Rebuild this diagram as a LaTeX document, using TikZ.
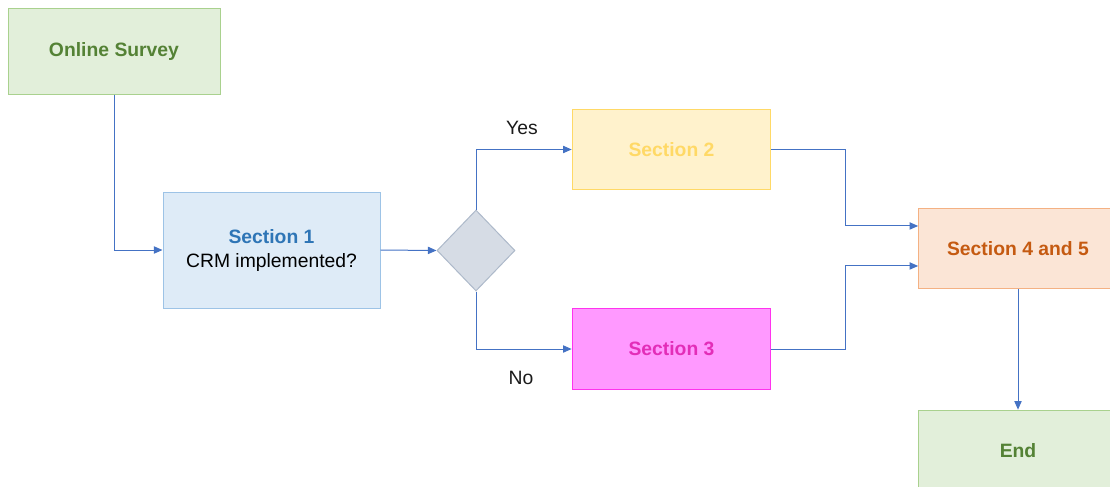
\documentclass[tikz,border=0pt]{standalone}
\usepackage{fontspec}
\setmainfont{Liberation Sans}
\usepackage{tikz}
\usepackage{xcolor}
\usetikzlibrary{shapes.geometric,arrows.meta}

\definecolor{surveyFill}{HTML}{E2EFDA}
\definecolor{surveyLine}{HTML}{A9D18E}
\definecolor{surveyText}{HTML}{548235}
\definecolor{blueFill}{HTML}{DEEBF7}
\definecolor{blueLine}{HTML}{9DC3E6}
\definecolor{blueText}{HTML}{2E75B6}
\definecolor{yellowFill}{HTML}{FFF2CC}
\definecolor{yellowLine}{HTML}{FFD966}
\definecolor{pinkFill}{HTML}{FF99FF}
\definecolor{pinkLine}{HTML}{FF33EE}
\definecolor{pinkText}{HTML}{E32DB8}
\definecolor{orangeFill}{HTML}{FBE5D6}
\definecolor{orangeLine}{HTML}{F4B183}
\definecolor{orangeText}{HTML}{C55A11}
\definecolor{grayFill}{HTML}{D6DCE5}
\definecolor{grayLine}{HTML}{ADB9CA}
\definecolor{linkBlue}{HTML}{4472C4}

\begin{document}
\begin{tikzpicture}[x=0.75pt,y=0.75pt,yscale=-1,xscale=1,
  box/.style={rectangle, line width=0.75pt, inner sep=0pt, align=center,
    minimum width=149pt, minimum height=60.5pt,
    font=\fontsize{14.5}{18}\selectfont\bfseries},
  label/.style={inner sep=0.75pt, font=\fontsize{14.5}{18}\selectfont, text={rgb,255:red,26;green,26;blue,26}},
  link/.style={draw=linkBlue, line width=0.75pt, -{Triangle[length=6.5pt,width=5.5pt]}}]

\useasboundingbox (0,0) rectangle (1110,486);

%Shape: Rectangle [survey]
\node [box, fill=surveyFill, draw=surveyLine, text=surveyText, minimum width=159pt, minimum height=64.5pt] (survey) at (114,51) {Online Survey};
%Shape: Rectangle [sec1]
\node [box, fill=blueFill, draw=blueLine, minimum width=162.75pt, minimum height=87pt] (sec1) at (271.5,250) {{\color{blueText}Section 1}\\\mdseries CRM implemented?};
%Shape: Diamond [choice]
\node [diamond, aspect=1, inner sep=0pt, minimum width=58.5pt, minimum height=60.75pt, fill=grayFill, draw=grayLine, line width=0.75pt] (choice) at (476,250.5) {};
%Shape: Rectangle [sec2]
\node [box, fill=yellowFill, draw=yellowLine, text=yellowLine] (sec2) at (671.5,149.5) {Section 2};
%Shape: Rectangle [sec3]
\node [box, fill=pinkFill, draw=pinkLine, text=pinkText] (sec3) at (671.5,349) {Section 3};
%Shape: Rectangle [sec45]
\node [box, fill=orangeFill, draw=orangeLine, text=orangeText] (sec45) at (1018,248.5) {Section 4 and 5};
%Shape: Rectangle [finish]
\node [box, fill=surveyFill, draw=surveyLine, text=surveyText] (finish) at (1018,450.5) {End};

%Straight Lines
\draw [link] (survey.south) |- (sec1.west);
\draw [link] (sec1.east) -- (choice.west);
\draw [link] (choice.north) |- (sec2.west);
\draw [link] (choice.south) |- (sec3.west);
\draw [link] (sec2.east) -- ++(74,0) |- ([yshift=-16.9pt]sec45.west);
\draw [link] (sec3.east) -- ++(74,0) |- ([yshift=13.1pt]sec45.west);
\draw [link] (sec45.south) -- (finish.north);

% Text Node
\node [label] (yes) at (522,128) {Yes};
% Text Node
\node [label] (no) at (521,378) {No};

\end{tikzpicture}
\end{document}
